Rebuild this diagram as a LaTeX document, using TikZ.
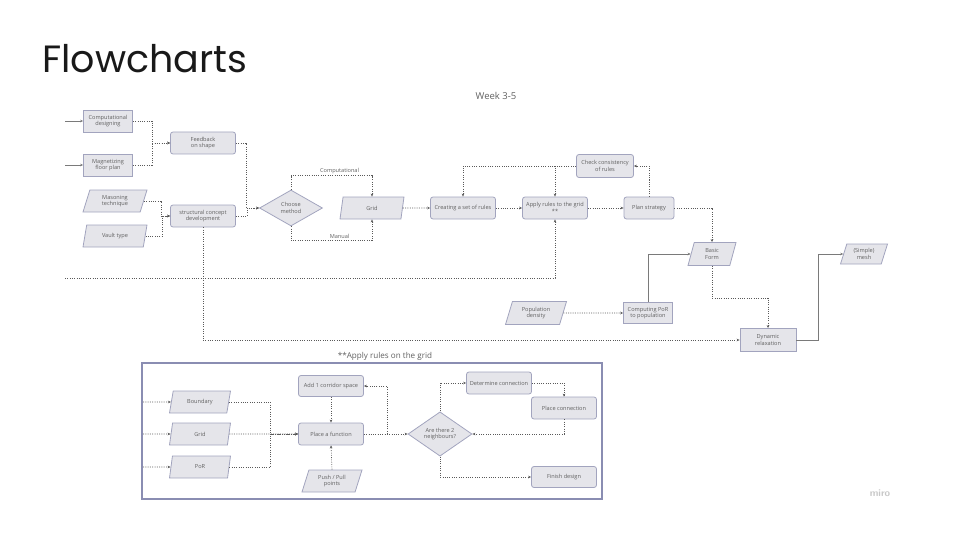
\documentclass[tikz,border=0pt]{standalone}
\usepackage{fontspec}
\setmainfont{Open Sans}
\newfontfamily\titlefont{Poppins}
\usetikzlibrary{shapes.geometric,arrows.meta}

\definecolor{boxfill}{HTML}{E5E5EA}
\definecolor{boxline}{HTML}{A2A4BE}
\definecolor{linkc}{HTML}{5A5A5A}
\definecolor{solidc}{HTML}{7A7A7A}
\definecolor{txt}{HTML}{606060}
\definecolor{framec}{HTML}{8A8DB2}

\tikzset{
  every node/.style={text=txt},
  small/.style={font=\fontsize{5.6}{6.6}\selectfont},
  proc/.style={small, draw=boxline, fill=boxfill, line width=0.8pt,
    rounded corners=2.5pt, minimum width=65pt, minimum height=22pt,
    align=center, inner sep=1pt},
  sqbox/.style={proc, rounded corners=0pt},
  data/.style={small, trapezium, trapezium left angle=64,
    trapezium right angle=116, trapezium stretches body,
    draw=boxline, fill=boxfill, line width=0.8pt,
    minimum width=64pt, minimum height=22pt, align=center, inner sep=1pt},
  decision/.style={small, diamond, draw=boxline, fill=boxfill,
    line width=0.8pt, minimum width=63pt, minimum height=36pt,
    align=center, inner sep=0pt},
  tip/.style={-{Stealth[length=3pt,width=2.6pt]}},
  linkline/.style={draw=linkc, line width=0.6pt, dash pattern=on 1pt off 1.3pt},
  link/.style={linkline, tip},
  solidlink/.style={draw=solidc, line width=0.9pt, tip},
  lbl/.style={small, inner sep=1.5pt}
}

\begin{document}
\begin{tikzpicture}[x=1pt,y=-1pt]
\useasboundingbox (0,0) rectangle (960,540);

% headings
\node[anchor=base west, inner sep=0pt, text=black!90, font=\titlefont\fontsize{38}{44}\selectfont] (title) at (42,73) {Flowcharts};
\node[font=\fontsize{9.5}{11}\selectfont] (week) at (496,96) {Week 3-5};

% ---------- main process ----------
\node[sqbox, minimum width=49pt] (cd)  at (108,121) {Computational\\designing};
\node[sqbox, minimum width=49pt] (mfp) at (108,165) {Magnetizing\\floor plan};
\node[proc] (fb)  at (203,143) {Feedback\\on shape};
\node[data] (mas)   at (115,201) {Masoning\\technique};
\node[data] (vault) at (115,236) {Vault type};
\node[proc] (scd) at (203,216) {structural concept\\development};
\node[decision] (choose) at (291,208) {Choose\\method};
\node[data] (grid)  at (372,208) {Grid};
\node[proc] (rules) at (463,208) {Creating a set of rules};
\node[proc] (apply) at (555,208) {Apply rules to the grid\\**};
\node[proc, minimum width=50pt] (plan)  at (649,208) {Plan strategy};
\node[proc, minimum width=57pt, minimum height=23pt] (check) at (605,166) {Check consistency\\of rules};
\node[data, minimum width=48pt, minimum height=23pt] (basic) at (712,254) {Basic\\Form};
\node[data, minimum width=61pt, minimum height=23pt] (pop) at (536,313) {Population\\density};
\node[sqbox, minimum width=49pt, minimum height=21pt] (por) at (648,313) {Computing PoR\\to population};
\node[sqbox, minimum width=56pt, minimum height=23pt] (dyn) at (768,340) {Dynamic\\relaxation};
\node[data, minimum width=47pt, minimum height=20pt] (mesh) at (864,254) {(Simple)\\mesh};

\coordinate (in1) at (65,121);
\coordinate (in2) at (65,165);
\coordinate (lstart) at (65,278);

\draw[solidlink] (in1) -- (cd.west);
\draw[solidlink] (in2) -- (mfp.west);
\draw[link] (cd.east) -- ++(19,0) |- (fb.west);
\draw[link] (mfp.east) -- ++(19,0) |- (fb.west);
\draw[link] (mas.east) -- ++(17,0) |- (scd.west);
\draw[link] (vault.east) -- ++(17,0) |- (scd.west);
\draw[link] (fb.east) -- ++(10,0) |- (choose.west);
\draw[link] (scd.east) -- ++(11,0) |- (choose.west);
\draw[link] (choose.north) -- ++(0,-14) -| node[lbl, pos=0.3, above] {Computational} (grid.north);
\draw[link] (choose.south) -- ++(0,14) -| node[lbl, pos=0.3, above] {Manual} (grid.south);
\draw[link] (grid.east) -- (rules.west);
\draw[link] (rules.east) -- (apply.west);
\draw[link] (apply.east) -- (plan.west);
\draw[link] (plan.north) |- (check.east);
\draw[link] (check.west) -| (rules.north);
\draw[link] (check.west) -| (apply.north);
\draw[link] (plan.east) -| (basic.north);
\draw[link] (basic.south) -- ++(0,32) -| (dyn.north);
\draw[link] (pop.east) -- (por.west);
\draw[solidlink] (por.north) |- (basic.west);
\draw[solidlink] (dyn.east) -- ++(22,0) |- (mesh.west);
\draw[link] (scd.south) |- (dyn.west);
\draw[link] (lstart) -| (apply.south);

% ---------- sub-process: apply rules on the grid ----------
\node[font=\fontsize{8.1}{9.5}\selectfont] (subtitle) at (385,356) {**Apply rules on the grid};
\draw[draw=framec, line width=1.1pt] (142,363) rectangle (602,499);

\node[data, minimum width=61pt] (boundary) at (200,402) {Boundary};
\node[data, minimum width=61pt] (gridb)    at (200,434) {Grid};
\node[data, minimum width=61pt] (porb)     at (200,467) {PoR};
\node[proc] (place) at (331,434) {Place a function};
\node[proc, minimum height=21pt] (corr)  at (331,386) {Add 1 corridor space};
\node[data, minimum width=60pt] (push) at (332,481) {Push / Pull\\points};
\node[decision, minimum width=64pt, minimum height=34pt] (nb) at (440,434) {Are there 2\\neighbours?};
\node[proc] (det) at (499,383) {Determine connection};
\node[proc] (pc)  at (564,408) {Place connection};
\node[proc, minimum height=21pt] (fin) at (564,477) {Finish design};

\coordinate (b1) at (143,402);
\coordinate (b2) at (143,434);
\coordinate (b3) at (143,467);

\draw[link] (b1) -- (boundary.west);
\draw[link] (b2) -- (gridb.west);
\draw[link] (b3) -- (porb.west);
\draw[link] (boundary.east) -- ++(41,0) |- (place.west);
\draw[link] (porb.east) -- ++(41,0) |- (place.west);
\draw[link] (gridb.east) -- (place.west);
\draw[link] (push.north) -- (place.south);
\draw[link] (place.east) -- ++(23,0) |- (corr.east);
\draw[link] (corr.south) -- (place.north);
\draw[link] (place.east) -- (nb.west);
\draw[link] (nb.north) |- (det.west);
\draw[link] (det.east) -| (pc.north);
\draw[link] (pc.south) |- (nb.east);
\draw[link] (nb.south) |- (fin.west);

% watermark
\node[text=black!22, font=\sffamily\bfseries\fontsize{10}{11}\selectfont] (miro) at (880,493) {miro};
\end{tikzpicture}
\end{document}
